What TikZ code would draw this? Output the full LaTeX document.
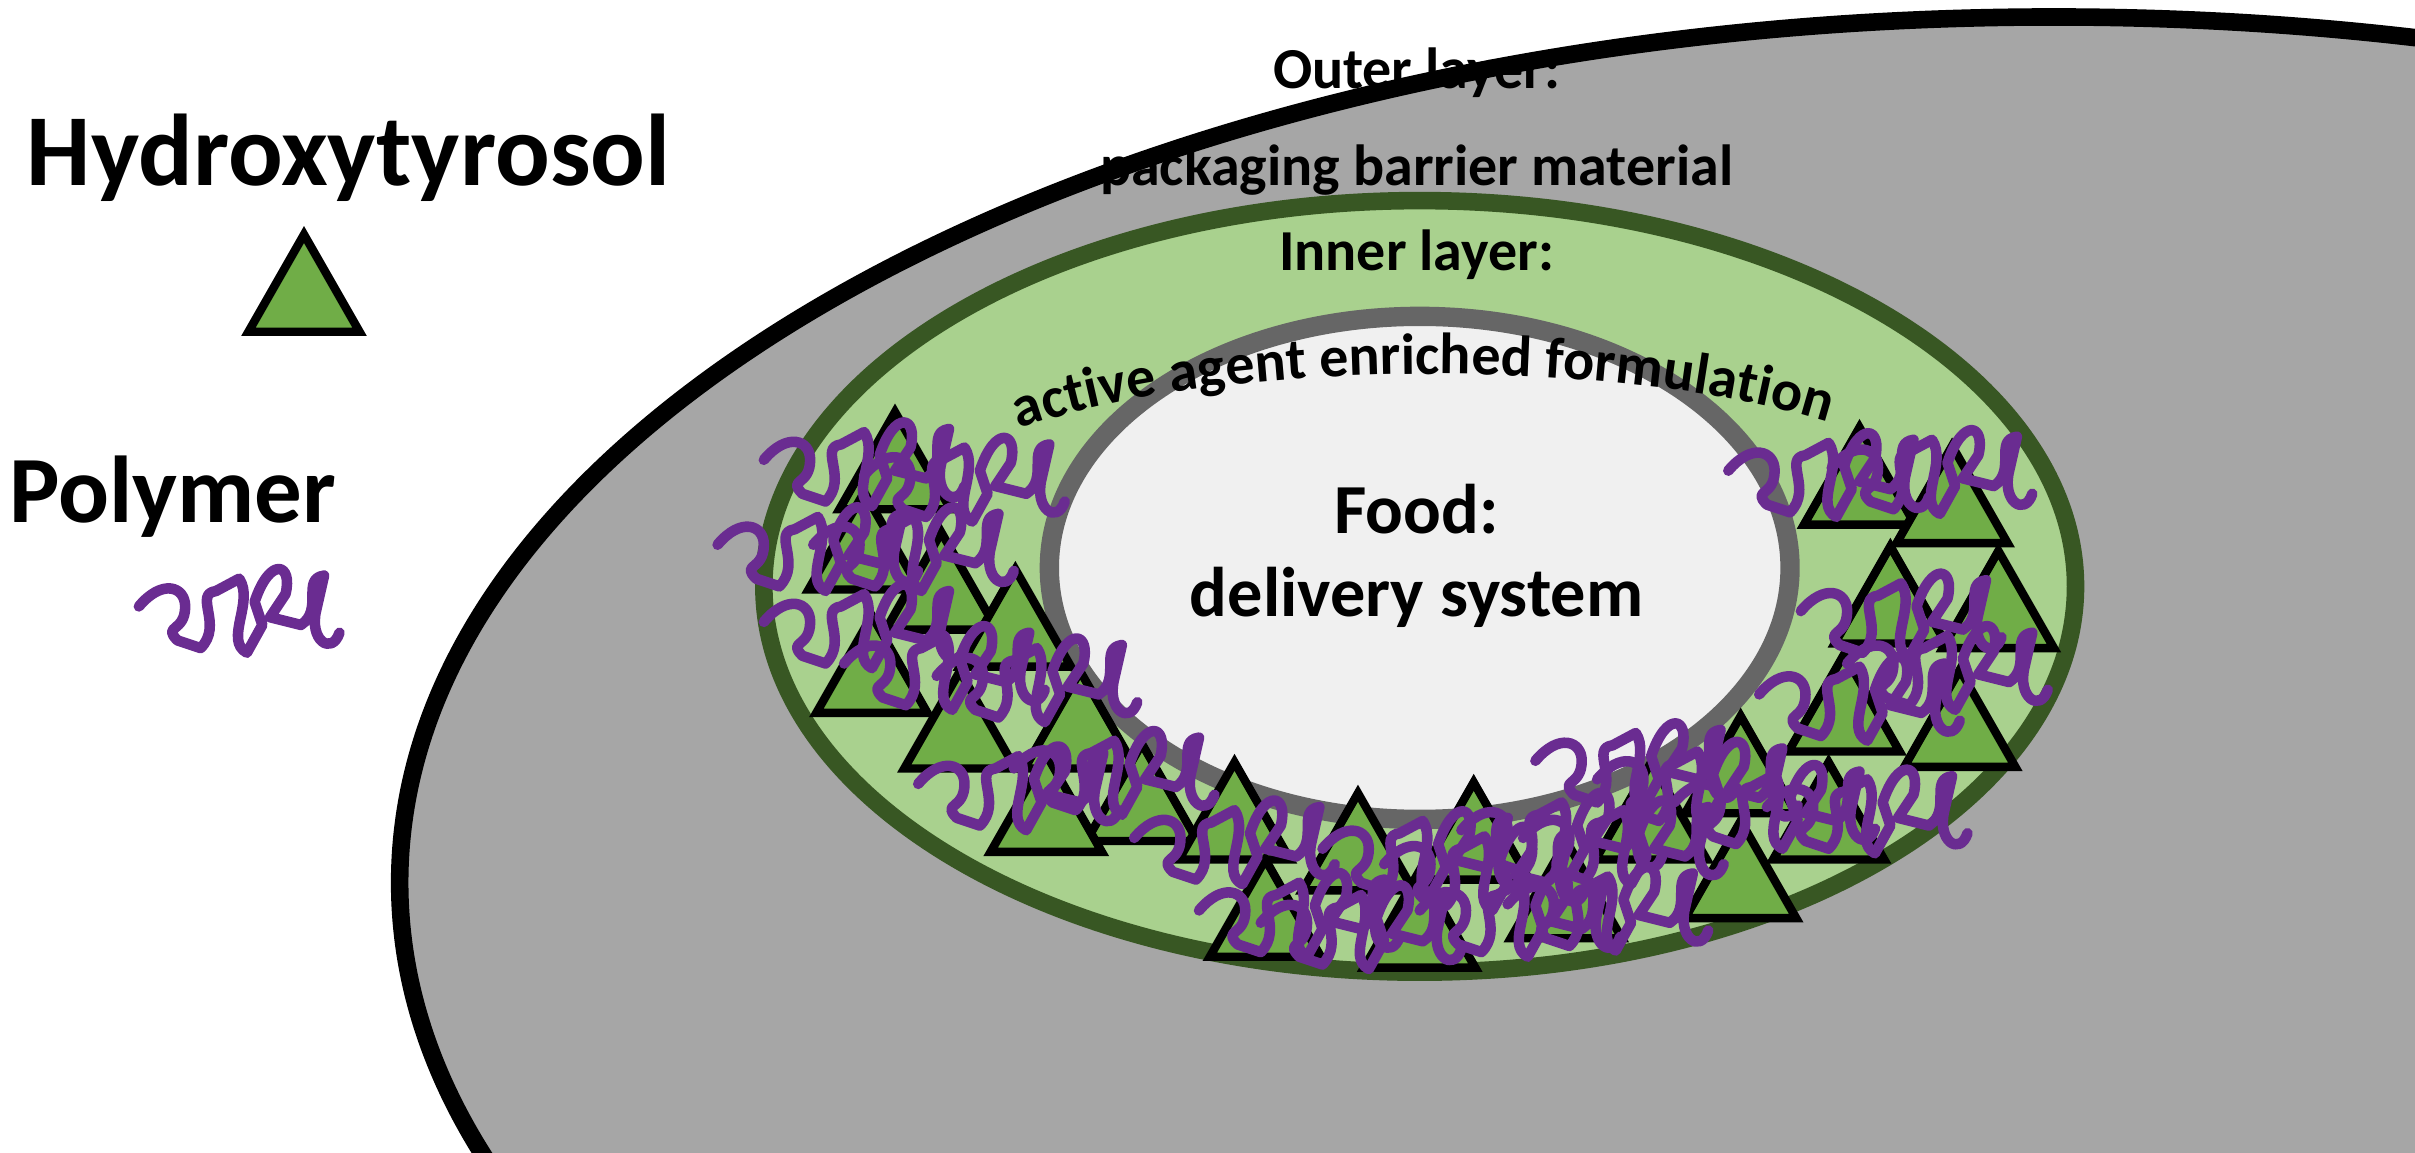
\documentclass[tikz,border=0pt]{standalone}
\usepackage{fontspec}
\setmainfont{Carlito}
\usetikzlibrary{decorations.text}
\definecolor{tri}{HTML}{70AD47}
\definecolor{pol}{HTML}{6A2C91}
\definecolor{lgreen}{HTML}{A9D18E}
\definecolor{dgreen}{HTML}{385723}
\tikzset{
 tri/.pic={\draw[fill=tri,line width=2.4pt,line join=miter] (-36,30)--(36,30)--(0,-33)--cycle;},
 poly/.pic={\draw[pol,line width=3pt,line join=round,line cap=round]
   (-65,-2)..controls(-50,-20)and(-35,-15)..(-35,-2)..controls(-35,15)and(-50,10)..(-40,20)
   --(-25,25)..controls(-10,10)and(-30,-10)..(-15,-12)--(0,-20)..controls(10,-5)and(-10,20)..(5,28)
   --(15,10)--(10,-5)..controls(20,-35)and(35,-30)..(30,-10)--(20,5)--(40,10)..controls(55,0)and(40,-20)..(55,-22)
   --(50,0)..controls(45,20)and(60,30)..(65,15);},
 lab/.style={font=\bfseries\fontsize{16.5}{19}\selectfont,inner sep=0pt},
}
\begin{document}
\begin{tikzpicture}[x=0.01543cm,y=-0.01543cm]
\useasboundingbox (0,0) rectangle (1565,746.6);
\draw[fill=black!35!white,line width=5pt] (1331,572) ellipse (1072 and 561);
\draw[fill=lgreen,draw=dgreen,line width=5pt] (920,380) ellipse (425 and 250);
\draw[fill=black!6,draw=black!60,line width=5.5pt] (920,368) ellipse (240 and 163);
\node[lab] (o1) at (918,47) {Outer layer:};
\node[lab] (o2) at (918,110) {packaging barrier material};
\node[lab] (i1) at (918,165) {Inner layer:};
\path[decorate,decoration={text along path,text align=center,
 text={|\bfseries\fontsize{16.5}{19}\selectfont|active agent enriched formulation}}]
 (650,282) .. controls (780,230) and (1060,230) .. (1195,277);
\node[font=\bfseries\fontsize{20}{24}\selectfont,inner sep=0pt] (f1) at (918,330) {Food:};
\node[font=\bfseries\fontsize{20}{24}\selectfont,inner sep=0pt] (f2) at (918,387) {delivery system};
\node[font=\bfseries\fontsize{29}{34}\selectfont,inner sep=0pt] (h) at (226,102) {Hydroxytyrosol};
\node[font=\bfseries\fontsize{27}{32}\selectfont,inner sep=0pt] (p) at (112,322) {Polymer};
\pic at (197,185) {tri};
\pic at (155,395) {poly};
\foreach \x/\y in {580/300,560/352,610/378,658/402,565/432,622/468,700/468,740/515,678/522,800/527,880/547,955/540,820/590,920/597,1015/578,1070/527,1128/497,1128/565,1185/527,1205/310,1265/322,1225/387,1295/390,1195/457,1270/467}
 \pic at (\x,\y) {tri};
\foreach \x/\y in {560/300,625/310,530/355,592/355,612/432,672/440,660/510,722/500,800/545,842/592,882/600,962/562,922/552,1012/540,1052/545,1100/507,1060/495,1150/522,1210/525,1185/307,1252/305,1232/398,1205/452,1262/432,985/592,1042/588,560/405}
 \pic at (\x,\y) {poly};
\end{tikzpicture}
\end{document}
